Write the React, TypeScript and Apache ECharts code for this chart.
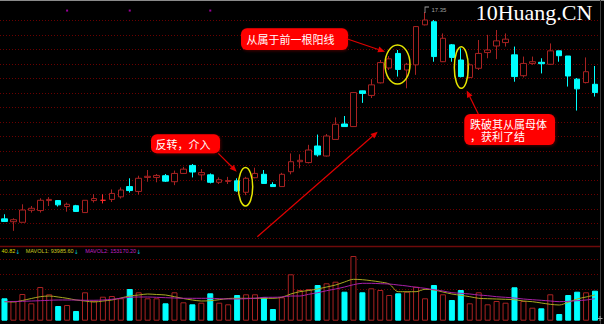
import React, { useEffect, useRef } from 'react';
import * as echarts from 'echarts';

// [open, close, lowest, highest]
const candles: number[][] = [
  [10.11, 10.02, 10.0, 10.27],
  [10.01, 10.08, 9.69, 10.13],
  [9.99, 10.42, 9.99, 10.62],
  [10.41, 10.48, 10.33, 10.56],
  [10.4, 10.76, 10.33, 10.83],
  [10.75, 10.79, 10.56, 10.87],
  [10.75, 10.6, 10.54, 10.77],
  [10.54, 10.62, 10.36, 10.68],
  [10.57, 10.37, 10.35, 10.6],
  [10.33, 10.76, 10.33, 10.76],
  [10.75, 10.82, 10.68, 10.98],
  [10.76, 10.76, 10.65, 10.97],
  [10.79, 11.0, 10.7, 11.14],
  [10.88, 11.12, 10.82, 11.21],
  [11.24, 11.1, 11.03, 11.53],
  [11.07, 11.53, 10.96, 11.62],
  [11.56, 11.6, 11.41, 11.82],
  [11.56, 11.63, 11.39, 11.68],
  [11.62, 11.43, 11.4, 11.68],
  [11.41, 11.7, 11.29, 11.8],
  [11.7, 11.85, 11.68, 11.93],
  [11.98, 11.75, 11.56, 12.03],
  [11.65, 11.73, 11.47, 11.85],
  [11.65, 11.39, 11.35, 11.7],
  [11.39, 11.48, 11.33, 11.56],
  [11.42, 11.45, 11.33, 11.58],
  [11.44, 11.09, 11.06, 11.53],
  [11.04, 11.53, 10.94, 11.58],
  [11.55, 11.7, 11.53, 11.9],
  [11.67, 11.35, 11.33, 11.82],
  [11.31, 11.24, 11.24, 11.39],
  [11.24, 11.67, 11.24, 11.72],
  [11.76, 12.11, 11.67, 12.4],
  [12.11, 12.16, 11.88, 12.37],
  [12.08, 12.52, 12.05, 12.7],
  [12.66, 12.35, 12.29, 13.06],
  [12.31, 13.01, 12.29, 13.08],
  [12.89, 13.42, 12.89, 13.66],
  [13.43, 13.34, 13.34, 13.71],
  [13.34, 14.53, 13.34, 14.55],
  [14.59, 14.5, 14.17, 14.6],
  [14.43, 14.8, 14.34, 15.0],
  [14.87, 15.58, 14.85, 15.67],
  [15.39, 15.71, 15.32, 15.81],
  [15.9, 15.34, 15.09, 16.02],
  [15.32, 15.52, 14.68, 15.57],
  [15.5, 16.84, 15.15, 16.86],
  [16.9, 17.07, 16.88, 17.35],
  [17.01, 15.79, 15.61, 17.07],
  [15.61, 16.43, 15.6, 16.6],
  [16.2, 15.76, 15.61, 16.23],
  [15.67, 15.09, 15.06, 16.08],
  [15.06, 15.5, 15.03, 15.55],
  [15.38, 15.9, 15.32, 16.37],
  [15.93, 16.02, 15.73, 16.55],
  [16.16, 16.34, 15.7, 16.72],
  [16.28, 16.4, 16.14, 16.6],
  [15.85, 15.09, 14.91, 16.14],
  [15.12, 15.55, 15.06, 15.79],
  [15.55, 15.61, 15.5, 15.79],
  [15.59, 15.54, 15.2, 15.73],
  [15.52, 15.99, 15.5, 16.25],
  [15.99, 15.82, 15.61, 15.99],
  [15.81, 15.11, 14.74, 15.81],
  [15.0, 14.66, 13.9, 15.04],
  [14.88, 15.26, 14.85, 15.76],
  [14.82, 14.53, 14.39, 15.46],
];

const volumes: number[] = [
  89600, 78800, 106800, 69600, 134800, 105600, 58800, 62800, 38800, 113600,
  78800, 96000, 98800, 89600, 126800, 113600, 89600, 89600, 69600, 113600,
  73600, 65600, 72000, 109600, 72000, 65600, 102800, 105600, 105600, 93600,
  46800, 93600, 185600, 122800, 126800, 142800, 149600, 156000, 116000, 258800,
  113600, 129600, 122800, 102800, 109600, 116000, 136000, 89600, 142800, 105600,
  82800, 122800, 69600, 113600, 65600, 78800, 72000, 133600, 78800, 52000,
  49600, 105600, 26800, 102800, 116000, 113600, 120000,
];

const mavol1: number[] = [
  76000, 74800, 80800, 88800, 96000, 98800, 94800, 89600, 82800, 78800,
  74800, 78800, 82800, 90800, 98800, 102800, 106800, 104800, 102800, 96000,
  88800, 82800, 78800, 80000, 84000, 88800, 89600, 89600, 89600, 89600,
  89600, 93600, 106800, 116000, 120800, 126800, 134800, 142800, 154800, 165600,
  164000, 160000, 154800, 146800, 116000, 116000, 116000, 125600, 122800, 114800,
  106800, 101600, 96000, 89600, 88000, 86800, 85600, 84000, 78800, 76000,
  70800, 65600, 62800, 73600, 86800, 94800, 102800,
];

const mavol2: number[] = [
  76000, 76800, 77600, 78800, 80000, 81600, 82800, 82800, 82800, 81600,
  81600, 82800, 85600, 89600, 93600, 94800, 94800, 93600, 92000, 90800,
  89600, 89600, 89600, 89600, 88000, 86800, 86800, 88000, 89600, 93600,
  93600, 94800, 98800, 98800, 105600, 112000, 120000, 126800, 134800, 144000,
  149600, 149600, 148000, 146800, 142800, 138800, 133600, 129600, 124000, 118800,
  112000, 109600, 106800, 102800, 100000, 96000, 93600, 90800, 86800, 84000,
  81600, 78800, 76000, 77600, 80000, 82800, 88000,
];

const categories: string[] = candles.map((_, i) => String(i + 1));
const dotIndices: number[] = [7, 14, 23];
const dotPrice = 17.4;
const legendTexts: string[] = ['40.82', 'MAVOL1: 93985.60', 'MAVOL2: 153170.20'];
const noteTexts: string[] = ['反转，介入', '从属于前一根阳线', '跌破其从属母体', '，获利了结'];
const watermark = '10Huang.CN';

const RED = '#a82222';
const CYAN = '#00ffff';
const ARROW = '#e00000';
const YEL = '#e6e600';

function arrow(x1: number, y1: number, x2: number, y2: number): any[] {
  const a = Math.atan2(y2 - y1, x2 - x1);
  const L = 7;
  const W = 3;
  const c = Math.cos(a);
  const s = Math.sin(a);
  const bx = x2 - L * c;
  const by = y2 - L * s;
  return [
    { type: 'line', z: 100, shape: { x1, y1, x2: bx, y2: by }, style: { stroke: ARROW, lineWidth: 1.2 } },
    {
      type: 'polygon',
      z: 100,
      shape: { points: [[x2, y2], [bx + W * s, by - W * c], [bx - W * s, by + W * c]] },
      style: { fill: ARROW },
    },
  ];
}

function bubble(x: number, y: number, w: number, h: number): any {
  return {
    type: 'rect',
    z: 99,
    shape: { x, y, width: w, height: h, r: 6 },
    style: { fill: '#ff0000', shadowBlur: 3, shadowColor: 'rgba(80,0,0,0.9)', shadowOffsetX: 1, shadowOffsetY: 1 },
  };
}

function noteText(x: number, y: number, text: string, size: number): any {
  return {
    type: 'text',
    z: 101,
    x,
    y,
    style: {
      text,
      fill: '#ffffff',
      font: `${size}px "Noto Sans CJK SC"`,
      textAlign: 'left',
      textVerticalAlign: 'middle',
    },
  };
}

function ellipse(cx: number, cy: number, rx: number, ry: number): any {
  return {
    type: 'ellipse',
    z: 100,
    shape: { cx, cy, rx, ry },
    style: { fill: 'none', stroke: YEL, lineWidth: 1.5 },
  };
}

export default function App() {
  const ref = useRef<HTMLDivElement>(null);

  useEffect(() => {
    if (!ref.current) return;
    const chart = echarts.init(ref.current, undefined, { renderer: 'svg' });

    const graphics: any[] = [];
    // frame
    graphics.push({ type: 'line', shape: { x1: 0, y1: 0.5, x2: 604, y2: 0.5 }, style: { stroke: '#8a8a8a', lineWidth: 1 } });
    graphics.push({ type: 'line', shape: { x1: 600.5, y1: 0, x2: 600.5, y2: 324 }, style: { stroke: '#3a3a3a', lineWidth: 1 } });
    // dotted grid main
    for (let k = 0; k < 16; k++) {
      const y = Math.round(20 + 14.5 * k) + 0.5;
      graphics.push({ type: 'line', z: -1, shape: { x1: 0, y1: y, x2: 600, y2: y }, style: { stroke: '#6a0000', lineWidth: 1, lineDash: [1, 2] } });
    }
    // volume separator and grid
    graphics.push({ type: 'line', shape: { x1: 0, y1: 246.5, x2: 600, y2: 246.5 }, style: { stroke: '#6e0a0a', lineWidth: 1.5 } });
    [259.5, 274.5, 289.5].forEach((y) => {
      graphics.push({ type: 'line', z: -1, shape: { x1: 0, y1: y, x2: 600, y2: y }, style: { stroke: '#6a0000', lineWidth: 1, lineDash: [1, 2] } });
    });
    // legend of volume pane (one rich text)
    graphics.push({
      type: 'text',
      x: 1.5,
      y: 251,
      style: {
        text: `{a|${legendTexts[0]}}{d|↓}{b|${legendTexts[1]}}{d|↓}{m|${legendTexts[2]}}{d|↓}`,
        textVerticalAlign: 'middle',
        rich: {
          a: { fill: '#d8d800', fontSize: 5.5, fontFamily: 'Liberation Sans' },
          b: { fill: '#c8c820', fontSize: 5.5, fontFamily: 'Liberation Sans', padding: [0, 0, 0, 5.5] },
          m: { fill: '#c020c0', fontSize: 5.5, fontFamily: 'Liberation Sans', padding: [0, 0, 0, 6.5] },
          d: { fill: '#00c8d8', fontSize: 6, fontFamily: 'DejaVu Sans' },
        },
      },
    });
    // watermark
    graphics.push({
      type: 'text',
      z: 50,
      x: 475.7,
      y: 12.6,
      style: { text: watermark, fill: '#ffffff', font: '22px "Liberation Serif"', textVerticalAlign: 'middle' },
    });
    // bottom-right cross
    graphics.push({ type: 'line', shape: { x1: 597.5, y1: 318.5, x2: 602.5, y2: 318.5 }, style: { stroke: '#9a9a9a', lineWidth: 1 } });
    graphics.push({ type: 'line', shape: { x1: 600, y1: 316, x2: 600, y2: 321 }, style: { stroke: '#9a9a9a', lineWidth: 1 } });

    // annotations
    graphics.push(bubble(151, 134.3, 69, 19));
    graphics.push(noteText(155.5, 144, noteTexts[0], 11));
    graphics.push(bubble(241, 28.3, 107, 21.7));
    graphics.push(noteText(246.5, 39.3, noteTexts[1], 11));
    graphics.push(bubble(464.3, 114, 90.7, 31));
    graphics.push(noteText(470, 124, noteTexts[2], 11));
    graphics.push(noteText(470, 135.5, noteTexts[3], 11));

    graphics.push(...arrow(218.3, 153.3, 236.7, 171.7));
    graphics.push(...arrow(346.7, 38.8, 385, 51.7));
    graphics.push(...arrow(478.3, 114, 466.7, 90.5));
    graphics.push(...arrow(257.3, 236.7, 377.7, 131.7));

    graphics.push(ellipse(245.5, 186.8, 7.2, 19.2));
    graphics.push(ellipse(397.5, 64.5, 12.5, 19.5));
    graphics.push(ellipse(461.3, 67.5, 7, 20.8));

    const volData = volumes.map((v, i) => {
      const up = candles[i][1] >= candles[i][0];
      return {
        value: v,
        itemStyle: up
          ? { color: '#000000', borderColor: RED, borderWidth: 1 }
          : { color: CYAN, borderColor: CYAN, borderWidth: 1 },
      };
    });

    chart.setOption({
      animation: false,
      backgroundColor: '#000000',
      grid: [
        { left: -1.2, right: 4.5, top: 0, height: 242 },
        { left: -1.2, right: 4.5, top: 247, height: 73.7 },
      ],
      xAxis: [
        { type: 'category', data: categories, gridIndex: 0, show: false, boundaryGap: true },
        { type: 'category', data: categories, gridIndex: 1, show: false, boundaryGap: true },
      ],
      yAxis: [
        { type: 'value', gridIndex: 0, min: 9.3, max: 17.77, show: false, splitLine: { show: false } },
        { type: 'value', gridIndex: 1, min: 0, max: 294800, show: false, splitLine: { show: false } },
      ],
      series: [
        {
          type: 'candlestick',
          xAxisIndex: 0,
          yAxisIndex: 0,
          data: candles,
          barWidth: 6,
          itemStyle: {
            color: '#000000',
            color0: CYAN,
            borderColor: RED,
            borderColor0: CYAN,
            borderColorDoji: '#ff2a2a',
            borderWidth: 1,
          },
          markPoint: {
            symbol: 'path://M0,8 L0,0 L4,0',
            symbolSize: [4, 6],
            symbolOffset: [2, -2],
            itemStyle: { color: 'transparent', borderColor: '#a0a0a0', borderWidth: 1 },
            label: {
              show: true,
              position: 'right',
              distance: 2,
              color: '#a0a0a0',
              fontSize: 6,
              fontFamily: 'Liberation Sans',
              formatter: (p: any) => Number(p.value).toFixed(2),
            },
            data: [{ type: 'max', valueDim: 'highest' }],
          },
        },
        {
          type: 'scatter',
          xAxisIndex: 0,
          yAxisIndex: 0,
          symbol: 'rect',
          symbolSize: 2,
          itemStyle: { color: '#c000c0' },
          data: dotIndices.map((i) => [i, dotPrice]),
        },
        {
          type: 'bar',
          xAxisIndex: 1,
          yAxisIndex: 1,
          barWidth: 6,
          data: volData,
        },
        {
          type: 'line',
          xAxisIndex: 1,
          yAxisIndex: 1,
          data: mavol1,
          symbol: 'none',
          smooth: 0.3,
          lineStyle: { color: '#a8a820', width: 1 },
          z: 5,
        },
        {
          type: 'line',
          xAxisIndex: 1,
          yAxisIndex: 1,
          data: mavol2,
          symbol: 'none',
          smooth: 0.3,
          lineStyle: { color: '#a820a8', width: 1 },
          z: 5,
        },
      ],
      graphic: { elements: graphics },
    });

    return () => chart.dispose();
  }, []);

  return (
    <div
      ref={ref}
      style={{ position: 'fixed', left: 0, top: 0, width: 604, height: 324, background: '#000' }}
    />
  );
}
